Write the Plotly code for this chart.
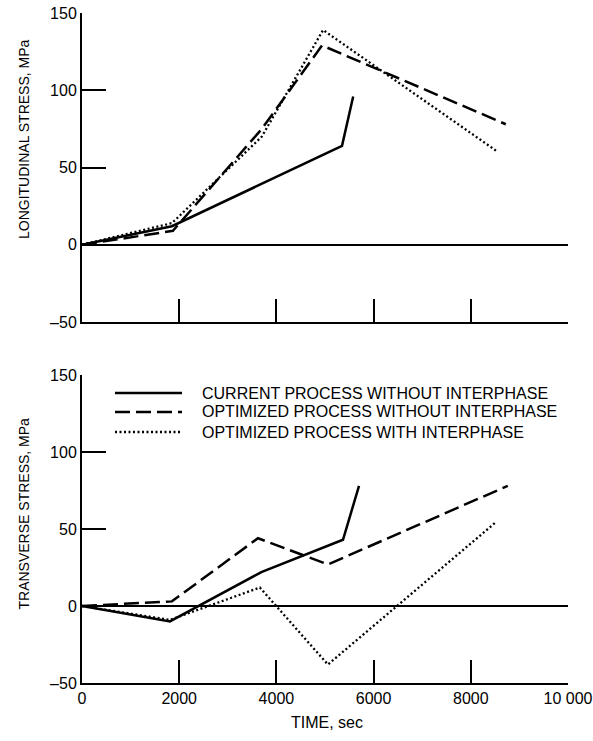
import plotly.graph_objects as go

# Longitudinal stress (MPa) vs time (s)
t_cur_long = [0, 1850, 5350, 5580]
s_cur_long = [0, 12, 64, 96]
t_opt_long = [0, 1870, 3700, 4940, 8720]
s_opt_long = [0, 9, 75, 129, 78]
t_int_long = [0, 1850, 3700, 4960, 8560]
s_int_long = [0, 14, 70, 139, 60]

# Transverse stress (MPa) vs time (s)
t_cur_tr = [0, 1810, 3690, 5370, 5700]
s_cur_tr = [0, -10, 22, 43, 78]
t_opt_tr = [0, 1850, 3620, 5060, 8760]
s_opt_tr = [0, 3, 44, 27, 78]
t_int_tr = [0, 1810, 3660, 5060, 8500]
s_int_tr = [0, -9, 12, -38, 54]

series_names = [
    "CURRENT PROCESS WITHOUT INTERPHASE",
    "OPTIMIZED PROCESS WITHOUT INTERPHASE",
    "OPTIMIZED PROCESS WITH INTERPHASE",
]
x_ticks = [0, 2000, 4000, 6000, 8000, 10000]
x_tick_text = ["0", "2000", "4000", "6000", "8000", "10 000"]
y_ticks = [-50, 0, 50, 100, 150]
y_tick_text = ["\u201350", "0", "50", "100", "150"]

FONT = "Liberation Sans, Arial, Helvetica, sans-serif"
styles = [
    dict(color="black", width=2.5, dash="solid"),
    dict(color="black", width=2.5, dash="15px,6px"),
    dict(color="black", width=2.3, dash="2px,2.5px"),
]

fig = go.Figure()
top = [(t_cur_long, s_cur_long), (t_opt_long, s_opt_long), (t_int_long, s_int_long)]
bot = [(t_cur_tr, s_cur_tr), (t_opt_tr, s_opt_tr), (t_int_tr, s_int_tr)]
for (t, s), st, nm in zip(top, styles, series_names):
    fig.add_trace(go.Scatter(x=t, y=s, mode="lines", line=st, name=nm,
                             xaxis="x", yaxis="y", showlegend=False))
for (t, s), st, nm in zip(bot, styles, series_names):
    fig.add_trace(go.Scatter(x=t, y=s, mode="lines", line=st, name=nm,
                             xaxis="x2", yaxis="y2", showlegend=False))

axis_common = dict(showgrid=False, showline=True, linecolor="black", linewidth=2,
                   ticks="inside", tickcolor="black", tickwidth=1.5, automargin=False,
                   tickfont=dict(family=FONT, size=16, color="black"))
xcommon = dict(axis_common, range=[0, 10000], tickvals=x_ticks, ticktext=x_tick_text,
               ticklen=23, zeroline=False)
ycommon = dict(axis_common, range=[-50, 150], tickvals=y_ticks, ticktext=y_tick_text,
               ticklen=24, zeroline=True, zerolinecolor="black", zerolinewidth=1.5)

fig.update_layout(
    width=593, height=741,
    margin=dict(l=82, r=25, t=13, b=58),
    paper_bgcolor="white", plot_bgcolor="white",
    showlegend=False,
    xaxis=dict(xcommon, domain=[0, 1], anchor="y", showticklabels=False),
    yaxis=dict(ycommon, domain=[0.5388, 1], anchor="x"),
    xaxis2=dict(xcommon, domain=[0, 1], anchor="y2"),
    yaxis2=dict(ycommon, domain=[0, 0.4597], anchor="x2"),
)

# Axis titles
fig.add_annotation(x=-0.1193, y=0.8119, xref="paper", yref="paper",
                   xanchor="center", yanchor="middle",
                   text="LONGITUDINAL STRESS, MPa", textangle=-90, showarrow=False,
                   font=dict(family=FONT, size=14, color="black"))
fig.add_annotation(x=-0.1193, y=0.2530, xref="paper", yref="paper",
                   xanchor="center", yanchor="middle",
                   text="TRANSVERSE STRESS, MPa", textangle=-90, showarrow=False,
                   font=dict(family=FONT, size=14, color="black"))
fig.add_annotation(x=0.504, y=-0.0597, xref="paper", yref="paper",
                   xanchor="center", yanchor="middle",
                   text="TIME, sec", showarrow=False,
                   font=dict(family=FONT, size=16, color="black"))

# Legend drawn inside the lower panel
legend_rows = [0.4328, 0.4045, 0.3746]
for yy, st, nm in zip(legend_rows, styles, series_names):
    fig.add_shape(type="line", xref="paper", yref="paper",
                  x0=0.0679, x1=0.2058, y0=yy, y1=yy, line=st)
    fig.add_annotation(x=0.2428, y=yy, xref="paper", yref="paper", text=nm,
                       xanchor="left", yanchor="middle", showarrow=False,
                       font=dict(family=FONT, size=16, color="black"))

fig.write_html("out.html")
